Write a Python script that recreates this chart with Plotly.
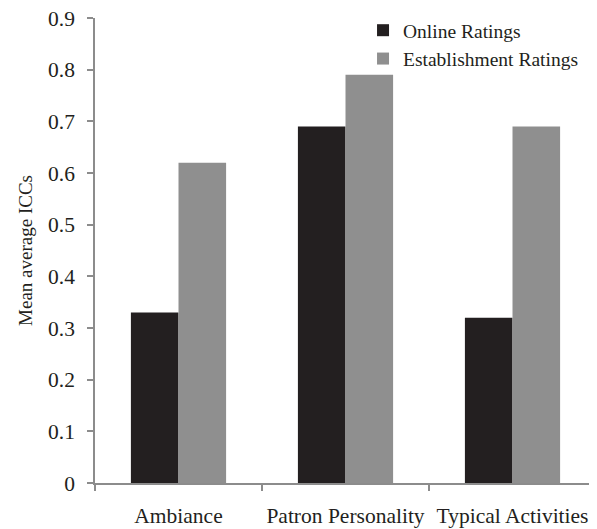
import plotly.graph_objects as go

categories = ["Ambiance", "Patron Personality", "Typical Activities"]
online_ratings = [0.33, 0.69, 0.32]
establishment_ratings = [0.62, 0.79, 0.69]
y_ticks = [0, 0.1, 0.2, 0.3, 0.4, 0.5, 0.6, 0.7, 0.8, 0.9]
y_tick_labels = ["0", "0.1", "0.2", "0.3", "0.4", "0.5", "0.6", "0.7", "0.8", "0.9"]

FONT = "Liberation Serif"
TEXT = "#231f20"
AXIS = "#8c8c8c"

fig = go.Figure()
fig.add_trace(go.Bar(name="Online Ratings", x=categories, y=online_ratings,
                     marker=dict(color="#231f20", line=dict(width=0))))
fig.add_trace(go.Bar(name="Establishment Ratings", x=categories, y=establishment_ratings,
                     marker=dict(color="#8f8f8f", line=dict(width=0))))

# page body adds an 8px margin, so the figure is sized 8px smaller
fig.update_layout(
    width=589, height=521,
    margin=dict(l=87, r=1, t=10, b=46, autoexpand=False),
    paper_bgcolor="white", plot_bgcolor="white",
    barmode="group", bargap=0.43, bargroupgap=0,
    font=dict(family=FONT, color=TEXT),
    showlegend=True,
    legend=dict(x=0.535, y=1.015, xanchor="left", yanchor="top",
                font=dict(family=FONT, size=19.5, color=TEXT),
                bgcolor="rgba(0,0,0,0)", tracegroupgap=0, itemwidth=30),
    xaxis=dict(
        type="category", showline=True, linecolor=AXIS, linewidth=1.5,
        ticks="outside", tickson="boundaries", ticklen=6, tickcolor=AXIS, tickwidth=1.5,
        tickfont=dict(family=FONT, size=21.5, color=TEXT), tickangle=0, automargin=False,
        ticklabelstandoff=12, showgrid=False, zeroline=False,
    ),
    yaxis=dict(
        range=[0, 0.9], tickvals=y_ticks, ticktext=y_tick_labels,
        showline=True, linecolor=AXIS, linewidth=1.5, automargin=False,
        ticks="outside", ticklen=6, tickcolor=AXIS, tickwidth=1.5,
        tickfont=dict(family=FONT, size=21.5, color=TEXT),
        ticklabelstandoff=8, ticklabeloverflow="allow", showgrid=False, zeroline=False,
        title=dict(text="Mean average ICCs", font=dict(family=FONT, size=19, color=TEXT),
                   standoff=10),
    ),
)

fig.write_html("out.html")
